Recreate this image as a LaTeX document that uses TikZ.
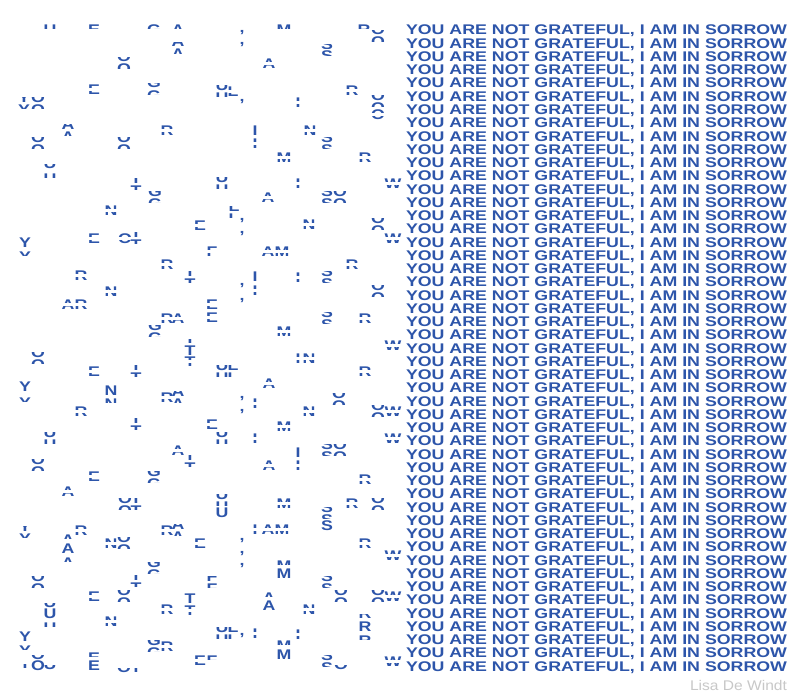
\documentclass[tikz,border=0pt]{standalone}
\usepackage{fontspec}
\usepackage{graphicx}
\newfontfamily\lf{Liberation Sans}
\definecolor{ink}{RGB}{45,85,170}
\definecolor{sig}{RGB}{200,200,200}
\tikzset{
  txtline/.style={inner sep=0pt, outer sep=0pt, anchor=base west, text=ink, font=\lf\bfseries\fontsize{14}{14}\selectfont},
  lt/.style={inner sep=0pt, outer sep=0pt, anchor=base, text=ink, font=\lf\bfseries\fontsize{14}{14}\selectfont},
  signature/.style={inner sep=0pt, outer sep=0pt, anchor=base east, text=sig, font=\lf\fontsize{14}{14}\selectfont}
}
\newcount\fragno
\newcommand\LT[1]{\scalebox{1.27}[1]{#1}}
\newcommand\frnode[3]{\global\advance\fragno by 1 \node[lt,name=fr\the\fragno] at (#1,#2) {\LT{#3}};}
\newcommand\frF[3]{\frnode{#1}{#2+5}{#3}}
\newcommand\frT[3]{\begin{scope}\clip (#1-10,#2-7) rectangle (#1+10,#2-1);\frnode{#1}{#2+5}{#3}\end{scope}}
\newcommand\frB[3]{\begin{scope}\clip (#1-10,#2+1) rectangle (#1+10,#2+7);\frnode{#1}{#2+5}{#3}\end{scope}}
\newcommand\frC[3]{\begin{scope}\clip (#1-10,#2-7) rectangle (#1+10,#2-1.5) (#1-10,#2+1.5) rectangle (#1+10,#2+7);\frnode{#1}{#2+5}{#3}\end{scope}}
\newcommand\frS[3]{\begin{scope}\clip (#1-10,#2-5.5) rectangle (#1+10,#2-1);\frnode{#1}{#2-1}{#3}\end{scope}\begin{scope}\clip (#1-10,#2+1) rectangle (#1+10,#2+5.5);\frnode{#1}{#2+11}{#3}\end{scope}}
\begin{document}
\begin{tikzpicture}[x=1pt,y=-1pt]
\useasboundingbox (0,0) rectangle (800,693);
\fill[white] (0,0) rectangle (800,693);
\foreach \r in {0,...,48} {\node[txtline, name=l\r] at (406,{35+13.25*\r}) {\resizebox{381pt}{\height}{YOU ARE NOT GRATEFUL, I AM IN SORROW}};}
\node[signature, name=sig] at (787,690) {\resizebox{97pt}{\height}{Lisa De Windt}};
% fragments
\frT{50}{30}{U}
\frT{94}{30}{E}
\frT{154}{30}{G}
\frT{178}{30}{A}
\frT{284}{30}{M}
\frF{242}{28}{,}
\frT{364}{30}{R}
\frS{378}{36}{O}
\frS{178}{48}{A}
\frF{242}{40}{,}
\frS{327}{50}{S}
\frS{124}{63}{O}
\frC{269}{63}{A}
\frC{94}{89}{E}
\frS{154}{89}{G}
\frS{222}{91}{U}
\frC{233}{91}{L}
\frC{352}{90}{R}
\frS{24}{103}{Y}
\frS{38}{103}{O}
\frF{242}{96}{,}
\frC{298}{102}{I}
\frS{378}{101}{O}
\frC{378}{114}{O}
\frS{68}{130}{A}
\frC{167}{130}{R}
\frF{255}{130}{I}
\frC{310}{130}{N}
\frS{38}{143}{O}
\frS{124}{143}{O}
\frC{255}{143}{I}
\frS{327}{143}{S}
\frC{284}{157}{M}
\frC{365}{157}{R}
\frB{50}{163}{U}
\frT{50}{178}{U}
\frS{136}{184}{T}
\frS{222}{183}{U}
\frC{298}{183}{I}
\frC{393}{183}{W}
\frS{155}{197}{G}
\frC{268}{197}{A}
\frS{327}{197}{S}
\frS{340}{197}{O}
\frC{111}{210}{N}
\frS{234}{212}{L}
\frF{242}{215}{,}
\frF{242}{228}{,}
\frC{309}{224}{N}
\frS{378}{224}{O}
\frC{200}{225}{E}
\frF{25}{242}{Y}
\frT{25}{256}{Y}
\frC{94}{238}{E}
\frC{125}{238}{O}
\frS{136}{238}{T}
\frC{393}{238}{W}
\frC{212}{251}{F}
\frC{268}{251}{A}
\frC{282}{251}{M}
\frC{167}{264}{R}
\frC{352}{264}{R}
\frC{81}{275}{R}
\frS{190}{277}{T}
\frF{255}{276}{I}
\frC{255}{290}{I}
\frF{242}{280}{,}
\frF{242}{295}{,}
\frC{298}{277}{I}
\frS{327}{277}{S}
\frC{111}{291}{N}
\frS{378}{291}{O}
\frC{68}{304}{A}
\frC{81}{304}{R}
\frC{212}{304}{E}
\frC{212}{317}{E}
\frC{167}{318}{R}
\frC{178}{318}{A}
\frS{327}{318}{S}
\frC{365}{318}{R}
\frS{155}{331}{G}
\frC{284}{331}{M}
\frB{190}{338}{T}
\frC{393}{345}{W}
\frF{190}{350}{T}
\frC{190}{361}{T}
\frS{38}{358}{O}
\frC{298}{358}{I}
\frC{309}{358}{N}
\frC{94}{371}{E}
\frS{136}{371}{T}
\frS{222}{371}{U}
\frS{233}{371}{L}
\frC{365}{371}{R}
\frC{269}{383}{A}
\frF{25}{386}{Y}
\frT{25}{402}{Y}
\frF{111}{390}{N}
\frT{111}{403}{N}
\frC{167}{397}{R}
\frS{178}{397}{A}
\frF{242}{393}{,}
\frF{242}{406}{,}
\frC{255}{403}{I}
\frS{339}{399}{O}
\frC{81}{411}{R}
\frC{309}{411}{N}
\frS{378}{411}{O}
\frC{393}{411}{W}
\frS{136}{424}{T}
\frC{212}{424}{E}
\frC{284}{426}{M}
\frS{50}{438}{U}
\frS{222}{438}{U}
\frC{255}{438}{I}
\frC{393}{438}{W}
\frC{178}{450}{A}
\frF{298}{452}{I}
\frC{298}{465}{I}
\frS{327}{450}{S}
\frS{340}{450}{O}
\frS{190}{461}{T}
\frS{38}{465}{O}
\frC{269}{465}{A}
\frC{94}{476}{E}
\frS{154}{477}{G}
\frC{365}{479}{R}
\frC{68}{491}{A}
\frS{125}{504}{O}
\frS{136}{504}{T}
\frS{222}{500}{U}
\frF{222}{512}{U}
\frC{284}{503}{M}
\frC{352}{503}{R}
\frS{378}{504}{O}
\frS{327}{513}{S}
\frF{327}{525}{S}
\frS{25}{532}{Y}
\frC{81}{530}{R}
\frC{167}{530}{R}
\frS{178}{530}{A}
\frC{255}{529}{I}
\frC{268}{529}{A}
\frC{282}{529}{M}
\frT{68}{539}{A}
\frF{68}{548}{A}
\frT{68}{562}{A}
\frC{111}{543}{N}
\frS{124}{543}{O}
\frC{200}{543}{E}
\frC{365}{543}{R}
\frF{242}{535}{,}
\frF{242}{548}{,}
\frF{242}{560}{,}
\frC{393}{555}{W}
\frT{284}{565}{M}
\frF{284}{573}{M}
\frS{154}{568}{G}
\frS{38}{582}{O}
\frS{136}{581}{T}
\frS{212}{582}{F}
\frS{327}{582}{S}
\frC{94}{596}{E}
\frS{124}{596}{O}
\frS{341}{596}{O}
\frS{378}{596}{O}
\frC{393}{596}{W}
\frF{190}{598}{T}
\frC{190}{610}{T}
\frT{269}{597}{A}
\frF{269}{605}{A}
\frB{50}{602}{U}
\frF{50}{613}{U}
\frT{50}{627}{U}
\frC{167}{609}{R}
\frC{309}{609}{N}
\frB{365}{613}{R}
\frF{365}{626}{R}
\frT{365}{640}{R}
\frC{111}{621}{N}
\frS{222}{633}{U}
\frS{233}{633}{L}
\frF{242}{630}{,}
\frC{255}{633}{I}
\frC{298}{634}{I}
\frF{25}{636}{Y}
\frT{25}{650}{Y}
\frT{284}{645}{M}
\frF{284}{654}{M}
\frS{154}{646}{G}
\frC{167}{646}{R}
\frB{25}{663}{Y}
\frB{38}{654}{O}
\frF{38}{665}{O}
\frB{50}{664}{U}
\frT{94}{657}{E}
\frF{94}{665}{E}
\frB{124}{667}{O}
\frB{136}{667}{T}
\frC{200}{660}{E}
\frT{212}{660}{F}
\frS{327}{661}{S}
\frB{341}{664}{O}
\frC{393}{661}{W}
\end{tikzpicture}
\end{document}
